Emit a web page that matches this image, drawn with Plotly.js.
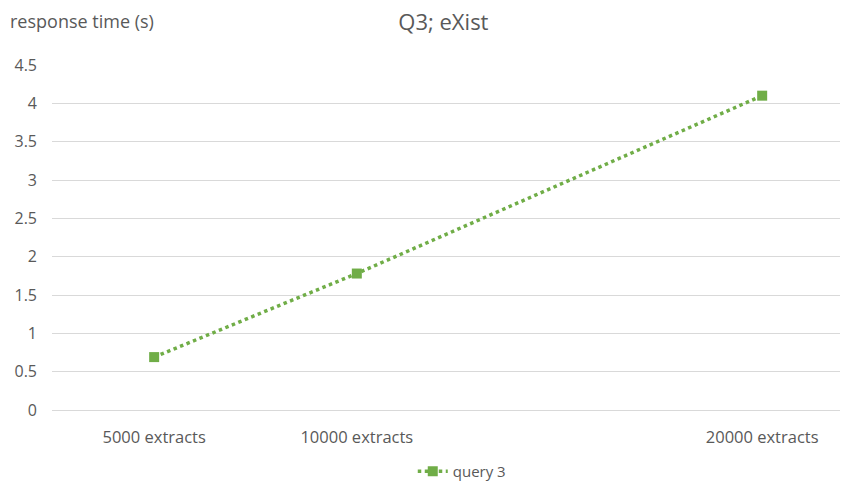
<!DOCTYPE html>
<html>
<head>
<meta charset="utf-8">
<script src="https://cdn.plot.ly/plotly-3.0.1.min.js"></script>
<style>html,body{margin:0;padding:0;background:#fff;}#chart{width:856px;height:485px;}</style>
</head>
<body>
<div id="chart"></div>
<script>
const extracts = [5000, 10000, 20000];
const tickLabels = ["5000 extracts", "10000 extracts", "20000 extracts"];
const query3 = [0.69, 1.78, 4.1];
const yTicks = [0, 0.5, 1, 1.5, 2, 2.5, 3, 3.5, 4, 4.5];

const font = "Open Sans, Noto Sans, sans-serif";
const grey = "#595959";

Plotly.newPlot("chart", [{
  x: extracts,
  y: query3,
  name: "query 3",
  type: "scatter",
  mode: "lines+markers",
  line: {color: "#70AD47", width: 3.5, dash: "dot"},
  marker: {symbol: "square", size: 10, color: "#70AD47"}
}], {
  width: 856, height: 485,
  margin: {l: 52, r: 16, t: 65, b: 75, autoexpand: false},
  paper_bgcolor: "#fff", plot_bgcolor: "#fff",
  font: {family: font, color: grey, size: 12},
  title: {text: "Q3; eXist", x: 0.518, xanchor: "center", y: 0.955, yanchor: "middle",
          font: {family: font, size: 22, color: grey}},
  xaxis: {
    range: [2480, 21920], tickvals: extracts, ticktext: tickLabels,
    showgrid: false, zeroline: false, showline: true, linecolor: "#d9d9d9", linewidth: 1,
    ticks: "", automargin: false, ticklabelstandoff: 12,
    tickfont: {size: 16.5, color: grey}
  },
  yaxis: {
    range: [0, 4.5], tickvals: yTicks, ticktext: yTicks.map(String),
    showgrid: true, gridcolor: "#d9d9d9", gridwidth: 1,
    zeroline: false, showline: false, ticks: "", automargin: false, ticklabelstandoff: 14,
    tickfont: {size: 16, color: grey}
  },
  showlegend: true,
  legend: {orientation: "h", x: 0.52, xanchor: "center", y: -0.178, yanchor: "middle",
           font: {size: 15, color: grey}},
  annotations: [{
    text: "response time (s)", xref: "paper", yref: "paper",
    x: -52/788, xanchor: "left", xshift: 8, y: 1, yanchor: "bottom", yshift: 30,
    showarrow: false, font: {family: font, size: 18, color: grey}
  }]
}, {displayModeBar: false, staticPlot: true});
</script>
</body>
</html>
